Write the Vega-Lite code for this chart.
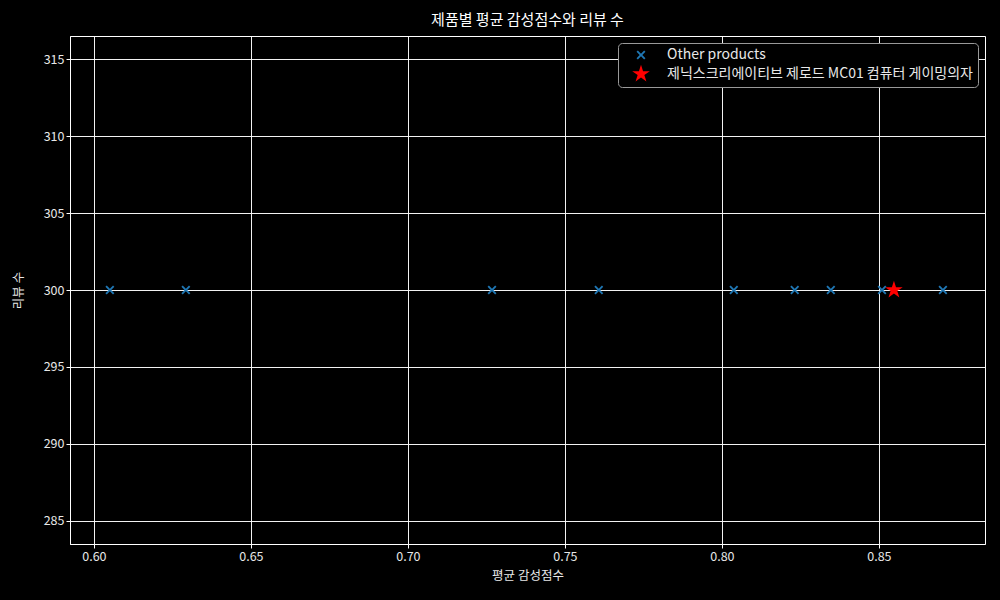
{
  "$schema": "https://vega.github.io/schema/vega-lite/v6.json",
  "autosize": "none",
  "width": 915,
  "height": 508,
  "padding": {"left": 70, "top": 36, "right": 15, "bottom": 56},
  "background": "black",
  "title": {"text": "제품별 평균 감성점수와 리뷰 수", "color": "white", "font": "Noto Sans CJK KR", "fontSize": 15, "fontWeight": "normal", "anchor": "middle", "offset": 8},
  "config": {
    "view": {"stroke": "white", "strokeWidth": 1},
    "font": "Noto Sans CJK KR",
    "axis": {
      "gridColor": "white", "gridOpacity": 0.95, "gridWidth": 1,
      "domainColor": "white", "tickColor": "white", "tickSize": 4,
      "labelColor": "#e8e8e8", "labelFontSize": 12.5, "labelFont": "Noto Sans CJK KR",
      "titleColor": "#e8e8e8", "titleFontSize": 12.5, "titleFontWeight": "normal", "titleFont": "Noto Sans CJK KR"
    },
    "legend": {
      "orient": "top-right", "offset": 7,
      "fillColor": "black", "strokeColor": "#999", "cornerRadius": 4,
      "padding": 5, "labelColor": "#e8e8e8", "labelFontSize": 14, "labelFont": "Noto Sans CJK KR",
      "labelLimit": 0, "labelOffset": 16,
      "rowPadding": 2, "symbolOffset": 8
    }
  },
  "data": {"values": [
    {"score": 0.6051, "reviews": 300, "series": "Other products"},
    {"score": 0.6293, "reviews": 300, "series": "Other products"},
    {"score": 0.7268, "reviews": 300, "series": "Other products"},
    {"score": 0.7608, "reviews": 300, "series": "Other products"},
    {"score": 0.8038, "reviews": 300, "series": "Other products"},
    {"score": 0.8232, "reviews": 300, "series": "Other products"},
    {"score": 0.8347, "reviews": 300, "series": "Other products"},
    {"score": 0.8510, "reviews": 300, "series": "Other products"},
    {"score": 0.8704, "reviews": 300, "series": "Other products"},
    {"score": 0.8548, "reviews": 300, "series": "제닉스크리에이티브 제로드 MC01 컴퓨터 게이밍의자"}
  ]},
  "mark": {"type": "point", "filled": true, "opacity": 1, "strokeWidth": 0},
  "encoding": {
    "x": {"field": "score", "type": "quantitative", "title": "평균 감성점수",
      "scale": {"domain": [0.5924, 0.8838], "nice": false, "zero": false},
      "axis": {"values": [0.6, 0.65, 0.7, 0.75, 0.8, 0.85], "format": ".2f", "titlePadding": 7}},
    "y": {"field": "reviews", "type": "quantitative", "title": "리뷰 수",
      "scale": {"domain": [283.5, 316.5], "nice": false, "zero": false},
      "axis": {"values": [285, 290, 295, 300, 305, 310, 315], "titlePadding": 18}},
    "color": {"field": "series", "type": "nominal", "title": null,
      "scale": {"domain": ["Other products", "제닉스크리에이티브 제로드 MC01 컴퓨터 게이밍의자"], "range": ["#1f77b4", "red"]}},
    "shape": {"field": "series", "type": "nominal", "title": null,
      "scale": {"domain": ["Other products", "제닉스크리에이티브 제로드 MC01 컴퓨터 게이밍의자"],
        "range": ["M-1,-0.7L-0.7,-1L0,-0.3L0.7,-1L1,-0.7L0.3,0L1,0.7L0.7,1L0,0.3L-0.7,1L-1,0.7L-0.3,0Z",
                  "M0,-1L0.225,-0.309L0.951,-0.309L0.363,0.118L0.588,0.809L0,0.382L-0.588,0.809L-0.363,0.118L-0.951,-0.309L-0.225,-0.309Z"]}},
    "size": {"field": "series", "type": "nominal", "title": null,
      "scale": {"domain": ["Other products", "제닉스크리에이티브 제로드 MC01 컴퓨터 게이밍의자"], "range": [80, 340]}}
  }
}
